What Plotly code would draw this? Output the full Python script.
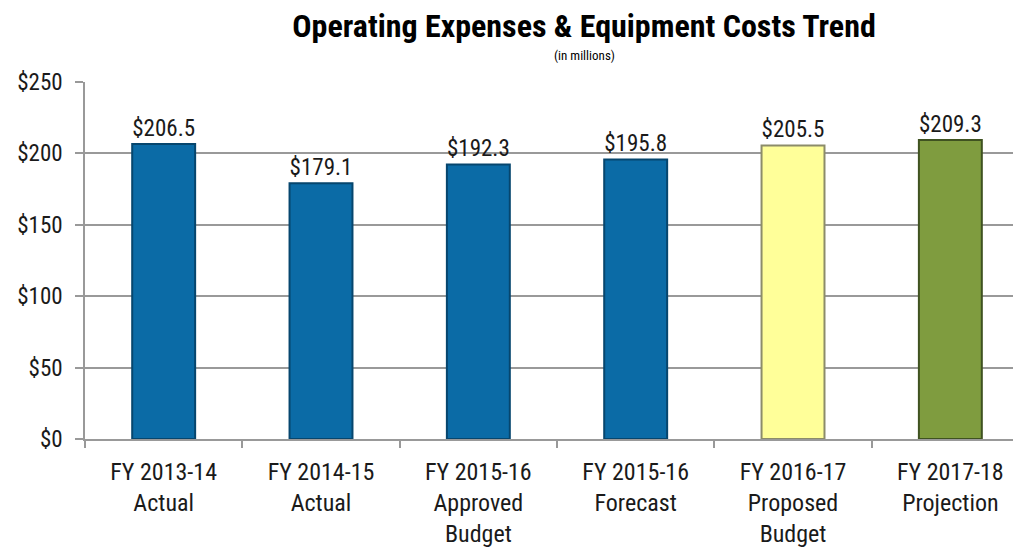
import plotly.graph_objects as go

categories = ["FY 2013-14<br>Actual", "FY 2014-15<br>Actual", "FY 2015-16<br>Approved<br>Budget",
              "FY 2015-16<br>Forecast", "FY 2016-17<br>Proposed<br>Budget", "FY 2017-18<br>Projection"]
values = [206.5, 179.1, 192.3, 195.8, 205.5, 209.3]
bar_colors = ["#0B6BA6", "#0B6BA6", "#0B6BA6", "#0B6BA6", "#FFFF99", "#7F9C3F"]
edge_colors = ["#06466E", "#06466E", "#06466E", "#06466E", "#8C8C6A", "#3F5220"]
y_ticks = [0, 50, 100, 150, 200, 250]
y_tick_labels = ["$0", "$50", "$100", "$150", "$200", "$250"]

FONT = "Liberation Sans Narrow, Arial Narrow, Roboto Condensed, Liberation Sans, sans-serif"

# page body has an 8px margin; figure is sized so the plot ends at the window edge
W, H = 1013, 540
L, T, B = 77, 74, 109

fig = go.Figure()
fig.add_trace(go.Bar(
    x=categories, y=values,
    marker=dict(color=bar_colors, line=dict(color=edge_colors, width=2)),
    text=[f"${v:.1f}" for v in values],
    textposition="outside",
    textfont=dict(family=FONT, size=25, color="#1a1a1a"),
    cliponaxis=False,
    width=0.4,
))

fig.update_layout(
    width=W, height=H,
    margin=dict(l=L, r=0, t=T, b=B),
    paper_bgcolor="white", plot_bgcolor="white",
    showlegend=False,
    font=dict(family=FONT, color="#1a1a1a"),
    title=dict(text="<b>Operating Expenses & Equipment Costs Trend</b>",
               x=576 / W, xanchor="center", y=1 - 18 / H, yanchor="middle",
               font=dict(family=FONT, size=32, color="#000000")),
    annotations=[dict(text="(in millions)", x=(576 - L) / (W - L), y=(H - B - 47) / (H - B - T),
                      xref="paper", yref="paper",
                      xanchor="center", yanchor="middle", showarrow=False,
                      font=dict(family=FONT, size=13, color="#000000"))],
)
fig.update_xaxes(
    range=[-0.5, 5.449],
    showline=True, linecolor="#999999", linewidth=1.5,
    ticks="outside", tickson="boundaries", ticklen=7, tickcolor="#999999", tickwidth=1.5,
    tickfont=dict(family=FONT, size=24, color="#1a1a1a"),
    ticklabelstandoff=10,
    showgrid=False,
)
fig.update_yaxes(
    range=[0, 250],
    tickvals=y_ticks, ticktext=y_tick_labels,
    showline=True, linecolor="#999999", linewidth=1.5,
    ticks="outside", ticklen=8, tickcolor="#999999", tickwidth=1.5,
    tickfont=dict(family=FONT, size=23, color="#1a1a1a"),
    showgrid=True, gridcolor="#999999", gridwidth=1.5,
    zeroline=False,
    ticklabelstandoff=8,
)

fig.write_html("out.html")
